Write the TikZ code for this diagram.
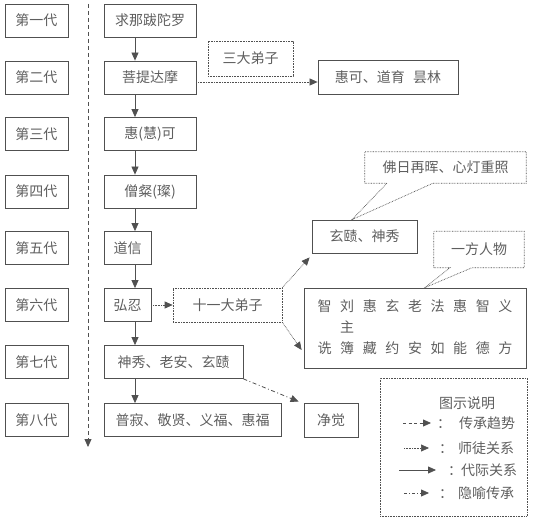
\documentclass[tikz,border=0pt]{standalone}
\usepackage{fontspec}
\newfontfamily\cjk{Noto Sans CJK SC}
\usetikzlibrary{arrows.meta,calc}
\definecolor{ln}{HTML}{505050}
\definecolor{tx}{HTML}{5E5E5E}
\begin{document}
\begin{tikzpicture}[x=1pt,y=-1pt,
  every node/.style={font=\cjk\fontsize{14}{16}\selectfont, text=tx, inner sep=0pt},
  solidbox/.style={draw=ln, line width=0.8pt, minimum height=33pt},
  genbox/.style={solidbox, minimum width=63pt},
  dotline/.style={draw=ln, line width=0.7pt, dash pattern=on 0.7pt off 0.9pt},
  dotbox/.style={dotline},
  tipa/.style={arrows={-{Triangle[length=8pt,width=7pt,fill=ln]}}},
  solidarr/.style={draw=ln, line width=0.8pt, tipa},
  dotarr/.style={dotline, tipa},
  dashline/.style={draw=ln, line width=0.8pt, dash pattern=on 4pt off 3pt},
  dashdot/.style={draw=ln, line width=0.8pt, dash pattern=on 4pt off 2.5pt on 1pt off 2.5pt},
]
\useasboundingbox (0,0) rectangle (554,518);

% generation labels
\foreach \i/\t/\y in {1/第一代/20.5, 2/第二代/77.5, 3/第三代/134, 4/第四代/191.5,
                      5/第五代/248, 6/第六代/305, 7/第七代/362, 8/第八代/420}
  \node[genbox] (g\i) at (36.5,\y) {\t};

% dashed time line
\coordinate (dtop) at (88,4);
\coordinate (dbot) at (88,447);
\draw[dashline, tipa] (dtop) -- (dbot);

% main column
\node[solidbox, minimum width=92pt] (m1) at (150,20.5) {求那跋陀罗};
\node[solidbox, minimum width=92pt] (m2) at (150,77.5) {菩提达摩};
\node[solidbox, minimum width=92pt] (m3) at (150,134) {惠(慧)可};
\node[solidbox, minimum width=92pt] (m4) at (150,191.5) {僧粲(璨)};
\node[solidbox, minimum width=47pt] (m5) at (127.5,248) {道信};
\node[solidbox, minimum width=47pt] (m6) at (127.5,305) {弘忍};
\node[solidbox, minimum width=139pt] (m7) at (173.5,362) {神秀、老安、玄赜};
\node[solidbox, minimum width=177pt] (m8) at (192.5,420) {普寂、敬贤、义福、惠福};

\coordinate (ax) at (135,0);
\foreach \a/\b in {m1/m2, m2/m3, m3/m4, m4/m5, m5/m6, m6/m7, m7/m8}
  \draw[solidarr] (\a.south -| ax) -- (\b.north -| ax);

% second generation disciples
\node[dotbox, minimum width=85pt, minimum height=35pt] (s3) at (250.5,58.5) {三大弟子};
\node[solidbox, minimum width=140pt, minimum height=34pt] (hk) at (388,77) {惠可、道育\hspace{0.6em}昙林};
\draw[dotarr] ([yshift=-4.5pt]m2.east) -- ([yshift=-5pt]hk.west);

% sixth generation disciples
\node[dotbox, minimum width=109pt, minimum height=34pt] (e11) at (227.5,305) {十一大弟子};
\draw[dotarr] (m6.east) -- (e11.west);

\node[solidbox, minimum width=105pt, minimum height=33pt] (xs) at (364.5,236.5) {玄赜、神秀};
\draw[dotarr] (e11.north east) -- ([xshift=-2pt,yshift=-4pt]xs.south west);

\node[solidbox, minimum width=222pt, minimum height=80pt] (zb) at (415,328)
  {\fontsize{14}{21}\selectfont\setlength{\tabcolsep}{4.3pt}%
   \begin{tabular}{@{}ccccccccc@{}}
   智&刘&惠&玄&老&法&惠&智&义\\
   &主&&&&&&&\\
   诜&簿&藏&约&安&如&能&德&方
   \end{tabular}};
\draw[dotarr] (e11.south east) -- ([xshift=-2pt,yshift=-22pt]zb.west);

% seventh -> jingjue
\node[solidbox, minimum width=54pt, minimum height=34pt] (jj) at (331,420) {净觉};
\draw[dashdot, tipa] (m7.south east) -- ([xshift=-5pt,yshift=1pt]jj.north west);

% callouts
\node[minimum width=161pt, minimum height=31pt] (fr) at (445.5,167.5) {佛日再晖、心灯重照};
\draw[dotline] (fr.south west) -- ([xshift=-58.5pt]fr.south) -- ([xshift=-12.5pt]xs.north)
  -- ([xshift=-12.5pt]fr.south) -- (fr.south east) -- (fr.north east) -- (fr.north west) -- cycle;

\node[minimum width=90pt, minimum height=36pt] (yf) at (479,249.5) {一方人物};
\draw[dotline] (yf.south west) -- ([xshift=-29pt]yf.south) -- ([xshift=10pt]zb.north)
  -- ([xshift=-7pt]yf.south) -- (yf.south east) -- (yf.north east) -- (yf.north west) -- cycle;

% legend
\node[dotbox, minimum width=147pt, minimum height=138pt] (lg) at (453.5,447) {};
\node (lt) at (467,403) {图示说明};

\coordinate (l1a) at (403,423); \coordinate (l1b) at (431,423);
\draw[dashline, dash pattern=on 3pt off 2.5pt, tipa] (l1a) -- (l1b);
\node (l1c) at (444,424) {：};
\node (l1t) at (487,423) {传承趋势};

\coordinate (l2a) at (404,448); \coordinate (l2b) at (429,448);
\draw[dotarr] (l2a) -- (l2b);
\node (l2c) at (446,449) {：};
\node (l2t) at (486,448) {师徒关系};

\coordinate (l3a) at (399,470); \coordinate (l3b) at (436,470);
\draw[solidarr] (l3a) -- (l3b);
\node (l3c) at (455,471) {：};
\node (l3t) at (489,470) {代际关系};

\coordinate (l4a) at (404,493); \coordinate (l4b) at (429,493);
\draw[dashdot, dash pattern=on 3pt off 2pt on 1pt off 2pt, tipa] (l4a) -- (l4b);
\node (l4c) at (446,494) {：};
\node (l4t) at (486,493) {隐喻传承};
\end{tikzpicture}
\end{document}
